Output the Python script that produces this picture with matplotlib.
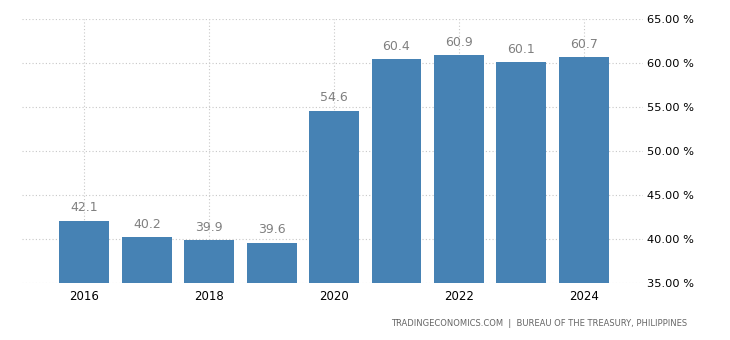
import matplotlib
matplotlib.use("Agg")
import matplotlib.pyplot as plt

years = [2016, 2017, 2018, 2019, 2020, 2021, 2022, 2023, 2024]
values = [42.1, 40.2, 39.9, 39.6, 54.6, 60.4, 60.9, 60.1, 60.7]
xtick_years = [2016, 2018, 2020, 2022, 2024]
yticks = [35, 40, 45, 50, 55, 60, 65]
source = "TRADINGECONOMICS.COM  |  BUREAU OF THE TREASURY, PHILIPPINES"

plt.rcParams['font.family'] = ['DejaVu Sans']
fig = plt.figure(figsize=(7.3, 3.4), dpi=100)
ax = fig.add_axes([22/730, 57/340, (643-22)/730, (283-19)/340])

ax.bar(years, values, width=0.8, color='#4682b4', zorder=2)
for x, v in zip(years, values):
    ax.text(x, v + 0.7, f"{v:.1f}", ha='center', va='bottom', fontsize=9, color='#808080')

ax.set_xlim(2015.0, 2024.95)
ax.set_ylim(35, 65)
ax.set_xticks(xtick_years)
ax.set_xticklabels([str(y) for y in xtick_years], fontsize=8.5)
ax.set_yticks(yticks)
ax.set_yticklabels([f"{t:.2f} %" for t in yticks], fontsize=8.2)
ax.yaxis.tick_right()
ax.tick_params(axis='x', length=0, pad=5)
ax.tick_params(axis='y', length=0, pad=3)
ax.grid(True, linestyle=(0, (1, 2)), color='#c8c8c8', linewidth=0.8, zorder=0)
ax.set_axisbelow(True)
for s in ax.spines.values():
    s.set_visible(False)

fig.text(687/730, 1 - 324/340, source, ha='right', va='center', fontsize=6, color='#666666')
fig.savefig("out.png", dpi=100)
